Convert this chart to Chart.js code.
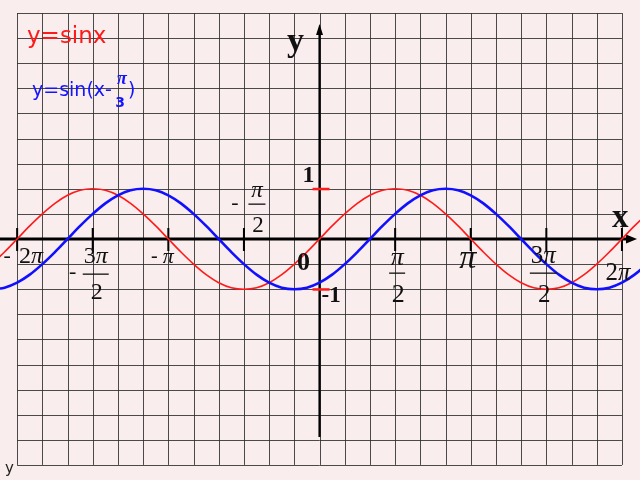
<!DOCTYPE html>
<html>
<head>
<meta charset="utf-8">
<script src="https://cdn.jsdelivr.net/npm/chart.js@4.4.0/dist/chart.umd.min.js"></script>
<style>
    body { margin: 0; background: #f9eded; }
    canvas { display: block; }
</style>
</head>
<body>
<canvas id="sine-chart" width="640" height="480"></canvas>
<script>
// x values in degrees, one every 15 degrees
let angles = [-390, -375, -360, -345, -330, -315, -300, -285, -270, -255, -240, -225, -210, -195,
    -180, -165, -150, -135, -120, -105, -90, -75, -60, -45, -30, -15, 0, 15, 30, 45, 60, 75, 90,
    105, 120, 135, 150, 165, 180, 195, 210, 225, 240, 255, 270, 285, 300, 315, 330, 345, 360, 375, 390]

// y = sin x  (red)
let sinValues = [-0.5, -0.26, 0, 0.26, 0.5, 0.71, 0.87, 0.97, 1, 0.97, 0.87, 0.71, 0.5, 0.26,
    0, -0.26, -0.5, -0.71, -0.87, -0.97, -1, -0.97, -0.87, -0.71, -0.5, -0.26, 0, 0.26, 0.5, 0.71,
    0.87, 0.97, 1, 0.97, 0.87, 0.71, 0.5, 0.26, 0, -0.26, -0.5, -0.71, -0.87, -0.97, -1, -0.97,
    -0.87, -0.71, -0.5, -0.26, 0, 0.26, 0.5]

// y = sin(x - pi/3)  (blue)
let shiftedValues = [-1, -0.97, -0.87, -0.71, -0.5, -0.26, 0, 0.26, 0.5, 0.71, 0.87, 0.97, 1, 0.97,
    0.87, 0.71, 0.5, 0.26, 0, -0.26, -0.5, -0.71, -0.87, -0.97, -1, -0.97, -0.87, -0.71, -0.5, -0.26,
    0, 0.26, 0.5, 0.71, 0.87, 0.97, 1, 0.97, 0.87, 0.71, 0.5, 0.26, 0, -0.26, -0.5, -0.71, -0.87,
    -0.97, -1, -0.97, -0.87, -0.71, -0.5]

// tick marks on the x axis and their labels
let tickAngles = [-360, -270, -180, -90, 90, 180, 270, 360]
let tickLabels = ['-2π', '-3π/2', '-π', '-π/2', 'π/2', 'π', '3π/2', '2π']

const SERIF = '"Liberation Serif", "DejaVu Serif", serif'
const SANS = '"DejaVu Sans", Verdana, sans-serif'

// draw a string, pi glyphs in italic, centred on cx
function piText(ctx, str, cx, base, size, bold) {
    let w = bold ? 'bold ' : ''
    let parts = str.split('')
    let widths = parts.map(function(ch) {
        ctx.font = (ch === 'π' ? 'italic ' : '') + w + size + 'px ' + SERIF
        return ctx.measureText(ch).width
    })
    let total = widths.reduce((a, b) => a + b, 0)
    let px = cx - total / 2
    ctx.textAlign = 'left'
    ctx.textBaseline = 'alphabetic'
    parts.forEach(function(ch, i) {
        ctx.font = (ch === 'π' ? 'italic ' : '') + w + size + 'px ' + SERIF
        ctx.fillText(ch, px, base)
        px += widths[i]
    })
}

// numerator over bar over denominator
function fraction(ctx, num, den, cx, numBase, barY, barW, denBase, size) {
    piText(ctx, num, cx, numBase, size)
    ctx.fillRect(cx - barW / 2, barY, barW, 1.3)
    piText(ctx, den, cx + 1, denBase, size)
}

// where each tick label sits, relative to its tick
function drawTickLabel(ctx, label, tx) {
    ctx.fillStyle = '#111'
    if (label === '-2π') {
        piText(ctx, '-', tx - 10, 262, 22)
        piText(ctx, '2π', tx + 14, 263, 24)
    } else if (label === '-3π/2') {
        piText(ctx, '-', tx - 20, 278, 22)
        fraction(ctx, '3π', '2', tx + 3, 263, 273.5, 26, 299, 24)
    } else if (label === '-π') {
        piText(ctx, '-', tx - 14, 262, 20)
        piText(ctx, 'π', tx, 263, 22)
    } else if (label === '-π/2') {
        piText(ctx, '-', tx - 9, 209, 22)
        fraction(ctx, 'π', '2', tx + 13, 197, 203.5, 17, 232, 23)
    } else if (label === 'π/2') {
        fraction(ctx, 'π', '2', tx + 2, 265, 272.5, 16, 302, 26)
    } else if (label === 'π') {
        piText(ctx, 'π', tx - 3, 268, 34)
    } else if (label === '3π/2') {
        fraction(ctx, '3π', '2', tx - 3, 263, 272.5, 27, 302, 25)
    } else if (label === '2π') {
        piText(ctx, '2π', tx - 4, 280, 25)
    }
}

let paperPlugin = {
    id: 'paper',
    beforeDatasetsDraw(chart) {
        let ctx = chart.ctx
        let xs = chart.scales.x
        let ys = chart.scales.y
        ctx.save()
        ctx.fillStyle = '#f9eded'
        ctx.fillRect(0, 0, chart.width, chart.height)

        // squared paper, one cell = pi/6 by 0.5
        ctx.strokeStyle = 'rgba(45, 45, 45, 0.85)'
        ctx.lineWidth = 1
        let top = ys.getPixelForValue(4.5)
        let bottom = ys.getPixelForValue(-4.5)
        let left = xs.getPixelForValue(-360)
        let right = xs.getPixelForValue(360)
        for (let a = -360; a <= 360; a += 30) {
            let px = Math.round(xs.getPixelForValue(a)) + 0.5
            ctx.beginPath()
            ctx.moveTo(px, top)
            ctx.lineTo(px, bottom)
            ctx.stroke()
        }
        for (let v = -4.5; v <= 4.51; v += 0.5) {
            let py = Math.round(ys.getPixelForValue(v)) + 0.5
            ctx.beginPath()
            ctx.moveTo(left, py)
            ctx.lineTo(right, py)
            ctx.stroke()
        }

        // axes
        let ox = xs.getPixelForValue(0)
        let oy = ys.getPixelForValue(0)
        ctx.strokeStyle = '#000'
        ctx.fillStyle = '#000'
        ctx.lineWidth = 2.8
        ctx.beginPath()
        ctx.moveTo(0, oy)
        ctx.lineTo(628, oy)
        ctx.stroke()
        ctx.beginPath()
        ctx.moveTo(637, oy)
        ctx.lineTo(626, oy - 4.5)
        ctx.lineTo(626, oy + 4.5)
        ctx.closePath()
        ctx.fill()

        ctx.lineWidth = 2.2
        ctx.beginPath()
        ctx.moveTo(ox, 437)
        ctx.lineTo(ox, 33)
        ctx.stroke()
        ctx.beginPath()
        ctx.moveTo(ox, 24)
        ctx.lineTo(ox - 3.5, 35)
        ctx.lineTo(ox + 3.5, 35)
        ctx.closePath()
        ctx.fill()

        // tick marks every pi/2
        ctx.lineWidth = 2
        tickAngles.forEach(function(a) {
            let px = xs.getPixelForValue(a)
            ctx.beginPath()
            ctx.moveTo(px, oy - 11)
            ctx.lineTo(px, oy + 12)
            ctx.stroke()
        })
        ctx.restore()
    },
    afterDatasetsDraw(chart) {
        let ctx = chart.ctx
        let xs = chart.scales.x
        let ys = chart.scales.y
        let ox = xs.getPixelForValue(0)
        ctx.save()

        // red marks at 1 and -1
        ctx.fillStyle = '#ff1a1a'
        ctx.fillRect(ox - 7, ys.getPixelForValue(1) - 1, 17, 2.5)
        ctx.fillRect(ox - 7, ys.getPixelForValue(-1) - 1, 17, 2.5)

        tickAngles.forEach(function(a, i) {
            drawTickLabel(ctx, tickLabels[i], xs.getPixelForValue(a))
        })

        ctx.fillStyle = '#111'
        piText(ctx, '1', ox - 11, 182, 24, true)
        piText(ctx, '0', ox - 16, 270, 26, true)
        ctx.textAlign = 'left'
        ctx.font = 'bold 23px ' + SERIF
        ctx.fillText('-1', ox + 2, 302)
        piText(ctx, 'y', ox - 24, 51, 34, true)
        ctx.font = 'bold 33px ' + SERIF
        ctx.fillText('x', 612, 227)

        // captions
        ctx.textAlign = 'left'
        ctx.textBaseline = 'alphabetic'
        ctx.fillStyle = '#ff1a1a'
        ctx.font = '23px ' + SANS
        ctx.fillText('y=sinx', 27, 43)

        ctx.fillStyle = '#1414ff'
        ctx.font = '19px ' + SANS
        ctx.fillText('y=sin(x-', 32, 96)
        ctx.font = 'bold italic 18px ' + SERIF
        ctx.textAlign = 'center'
        ctx.fillText('π', 122, 84)
        ctx.font = 'bold 14px ' + SANS
        ctx.fillText('3', 120, 107)
        ctx.textAlign = 'left'
        ctx.font = '19px ' + SANS
        ctx.fillText(')', 128, 96)

        ctx.fillStyle = '#222'
        ctx.font = '15px ' + SANS
        ctx.fillText('y', 5, 473)
        ctx.restore()
    }
}

let ctx = document.getElementById('sine-chart').getContext('2d')
let sineChart = new Chart(ctx, {
    type: 'line',
    data: {
        datasets: [
            {
                label: 'y=sin(x-π/3)',
                data: angles.map((a, i) => ({x: a, y: shiftedValues[i]})),
                borderColor: '#1010ff',
                borderWidth: 2.6,
                pointRadius: 0,
                cubicInterpolationMode: 'monotone',
            },
            {
                label: 'y=sinx',
                data: angles.map((a, i) => ({x: a, y: sinValues[i]})),
                borderColor: '#ff1a1a',
                borderWidth: 1.6,
                pointRadius: 0,
                cubicInterpolationMode: 'monotone',
            }
        ]
    },
    options: {
        responsive: false,
        animation: false,
        devicePixelRatio: 1,
        layout: { padding: 0 },
        plugins: {
            legend: { display: false },
            tooltip: { enabled: false },
        },
        scales: {
            x: { type: 'linear', min: -380.4, max: 381.5, display: false },
            y: { min: -4.8, max: 4.76, display: false },
        }
    },
    plugins: [paperPlugin]
})
</script>
</body>
</html>
